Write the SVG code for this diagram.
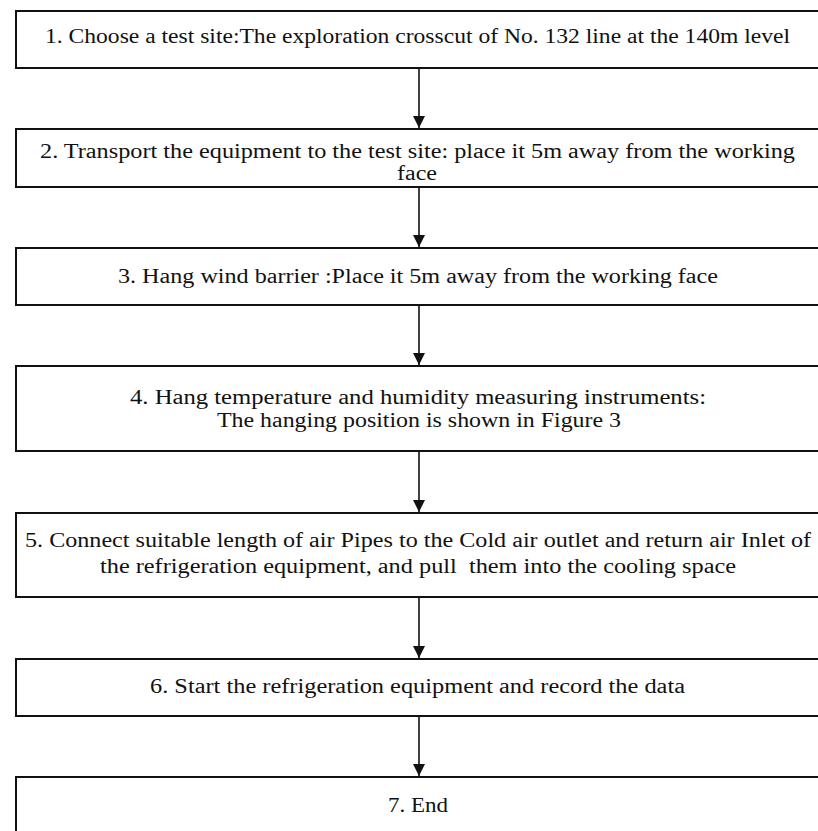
<svg xmlns="http://www.w3.org/2000/svg" width="818" height="831" viewBox="0 0 818 831">
<defs>
<style>
.box{fill:#fff;stroke:#111;stroke-width:2}
.t{font-family:"Liberation Serif","Times New Roman",serif;font-size:20.5px;fill:#111}
.c{stroke:#111;stroke-width:1.6;fill:none}
</style>
<marker id="ah" markerWidth="12" markerHeight="12" refX="10" refY="5" orient="auto" markerUnits="userSpaceOnUse" viewBox="0 0 10 10">
<path d="M0,0 L10,5 L0,10 Z" fill="#111"/>
</marker>
</defs>
<rect width="818" height="831" fill="#fff"/>
<g id="n1">
<rect class="box" x="16" y="11" width="810" height="57"/>
<text class="t" x="45" y="43" textLength="745" lengthAdjust="spacingAndGlyphs">1. Choose a test site:The exploration crosscut of No. 132 line at the 140m level</text>
</g>
<g id="n2">
<rect class="box" x="16" y="129" width="810" height="58"/>
<text class="t" x="40" y="158" textLength="755" lengthAdjust="spacingAndGlyphs">2. Transport the equipment to the test site: place it 5m away from the working</text>
<text class="t" x="397" y="180" textLength="40" lengthAdjust="spacingAndGlyphs">face</text>
</g>
<g id="n3">
<rect class="box" x="16" y="248" width="810" height="57"/>
<text class="t" x="118" y="283" textLength="600" lengthAdjust="spacingAndGlyphs">3. Hang wind barrier :Place it 5m away from the working face</text>
</g>
<g id="n4">
<rect class="box" x="16" y="366" width="810" height="85"/>
<text class="t" x="130" y="404" textLength="576" lengthAdjust="spacingAndGlyphs">4. Hang temperature and humidity measuring instruments:</text>
<text class="t" x="217" y="427" textLength="404" lengthAdjust="spacingAndGlyphs">The hanging position is shown in Figure 3</text>
</g>
<g id="n5">
<rect class="box" x="16" y="513" width="810" height="84"/>
<text class="t" x="25" y="547" textLength="786" lengthAdjust="spacingAndGlyphs">5. Connect suitable length of air Pipes to the Cold air outlet and return air Inlet of</text>
<text class="t" x="100" y="573" textLength="636" lengthAdjust="spacingAndGlyphs" xml:space="preserve">the refrigeration equipment, and pull  them into the cooling space</text>
</g>
<g id="n6">
<rect class="box" x="16" y="659" width="810" height="57"/>
<text class="t" x="150" y="693" textLength="535" lengthAdjust="spacingAndGlyphs">6. Start the refrigeration equipment and record the data</text>
</g>
<g id="n7">
<rect class="box" x="16" y="777" width="810" height="70"/>
<text class="t" x="388" y="812" textLength="60" lengthAdjust="spacingAndGlyphs">7. End</text>
</g>
<g id="connectors">
<line class="c" x1="419" y1="69" x2="419" y2="128" marker-end="url(#ah)"/>
<line class="c" x1="419" y1="188" x2="419" y2="247" marker-end="url(#ah)"/>
<line class="c" x1="419" y1="306" x2="419" y2="365" marker-end="url(#ah)"/>
<line class="c" x1="419" y1="452" x2="419" y2="512" marker-end="url(#ah)"/>
<line class="c" x1="419" y1="598" x2="419" y2="658" marker-end="url(#ah)"/>
<line class="c" x1="419" y1="717" x2="419" y2="776" marker-end="url(#ah)"/>
</g>
</svg>
